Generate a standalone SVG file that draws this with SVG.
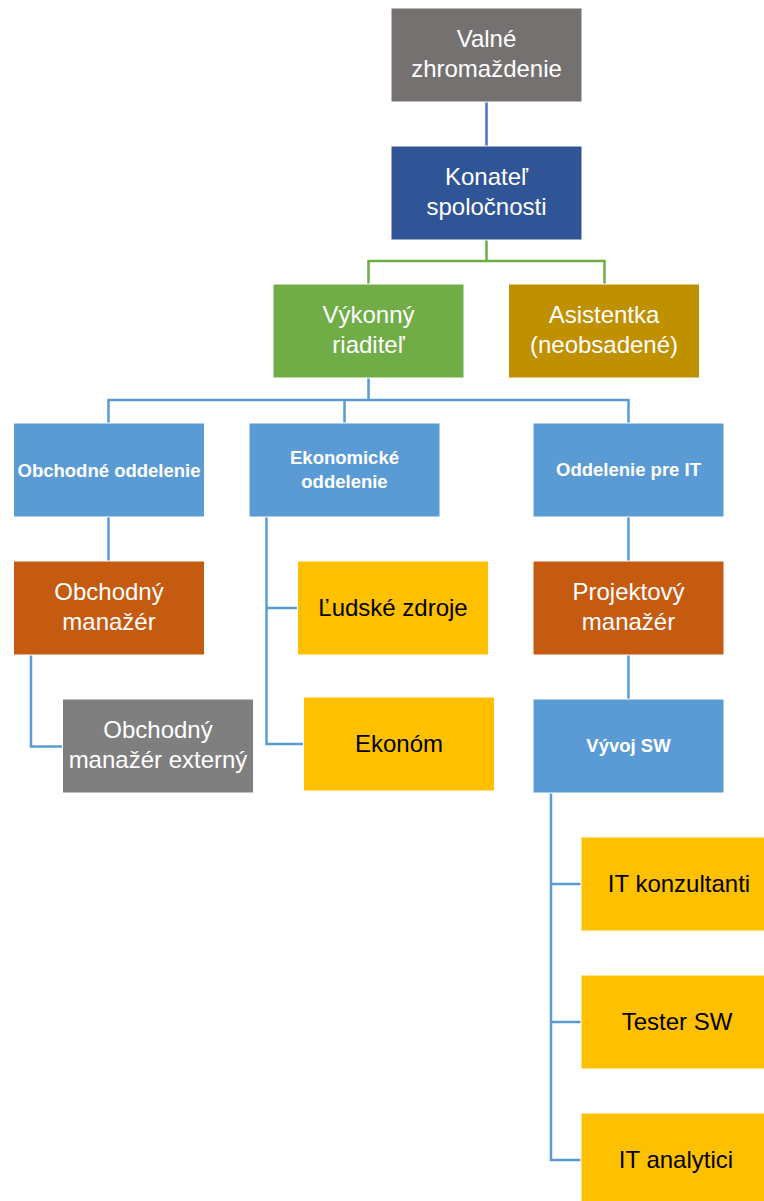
<svg xmlns="http://www.w3.org/2000/svg" width="764" height="1201" viewBox="0 0 764 1201">
<style>
.box{stroke:#ffffff;stroke-width:1}
.t{font-family:"Liberation Sans",Arial,sans-serif;font-size:24px;text-anchor:middle;fill:#ffffff}
.tb{font-family:"Liberation Sans",Arial,sans-serif;font-size:18.5px;font-weight:bold;text-anchor:middle;fill:#ffffff}
.dk{fill:#000000}
.c{fill:none;stroke-width:2.5}
.cb{stroke:#5B9BD5}
.cg{stroke:#70AD47}
.cd{stroke:#4472C4}
</style>
<rect width="764" height="1201" fill="#ffffff"/>
<g id="connectors">
<path class="c cd" d="M486.5,102 V146"/>
<path class="c cg" d="M486.5,240 V261 M368.5,284 V261 H604.5 V284"/>
<path class="c cb" d="M368.5,378 V400 M108.5,423 V400 H628.5 V423 M344.5,400 V423"/>
<path class="c cb" d="M108.5,517 V561"/>
<path class="c cb" d="M31,655 V746.5 H62"/>
<path class="c cb" d="M266.5,517 V744 H303 M266.5,608 H297"/>
<path class="c cb" d="M628.5,517 V561 M628.5,655 V699"/>
<path class="c cb" d="M551,793 V1160 H581 M551,884 H581 M551,1022 H581"/>
</g>
<g id="valne">
<rect class="box" x="391" y="8" width="191" height="94" fill="#767171"/>
<text class="t" x="486.5" y="47">Valné</text>
<text class="t" x="486.5" y="77">zhromaždenie</text>
</g>
<g id="konatel">
<rect class="box" x="391" y="146" width="191" height="94" fill="#2F5597"/>
<text class="t" x="486.5" y="185">Konateľ</text>
<text class="t" x="486.5" y="215">spoločnosti</text>
</g>
<g id="vykonny">
<rect class="box" x="273" y="284" width="191" height="94" fill="#70AD47"/>
<text class="t" x="368.5" y="323">Výkonný</text>
<text class="t" x="368.5" y="353">riaditeľ</text>
</g>
<g id="asistentka">
<rect class="box" x="508.5" y="284" width="191" height="94" fill="#BF9000"/>
<text class="t" x="604" y="323">Asistentka</text>
<text class="t" x="604" y="353">(neobsadené)</text>
</g>
<g id="obchodne">
<rect class="box" x="13.5" y="423" width="191" height="94" fill="#5B9BD5"/>
<text class="tb" x="109" y="476.5">Obchodné oddelenie</text>
</g>
<g id="ekonomicke">
<rect class="box" x="249" y="423" width="191" height="94" fill="#5B9BD5"/>
<text class="tb" x="344.5" y="464">Ekonomické</text>
<text class="tb" x="344.5" y="488">oddelenie</text>
</g>
<g id="oddelenie-it">
<rect class="box" x="533" y="423" width="191" height="94" fill="#5B9BD5"/>
<text class="tb" x="628.5" y="476">Oddelenie pre IT</text>
</g>
<g id="obchodny-manazer">
<rect class="box" x="13.5" y="561" width="191" height="94" fill="#C55A11"/>
<text class="t" x="109" y="600">Obchodný</text>
<text class="t" x="109" y="630">manažér</text>
</g>
<g id="obchodny-externy">
<rect class="box" x="62.5" y="699" width="191" height="94" fill="#7F7F7F"/>
<text class="t" x="158" y="738">Obchodný</text>
<text class="t" x="158" y="768">manažér externý</text>
</g>
<g id="ludske-zdroje">
<rect class="box" x="297.5" y="561" width="191" height="94" fill="#FFC000"/>
<text class="t dk" x="393" y="616">Ľudské zdroje</text>
</g>
<g id="ekonom">
<rect class="box" x="303.5" y="697" width="191" height="94" fill="#FFC000"/>
<text class="t dk" x="399" y="752">Ekonóm</text>
</g>
<g id="projektovy">
<rect class="box" x="533" y="561" width="191" height="94" fill="#C55A11"/>
<text class="t" x="628.5" y="600">Projektový</text>
<text class="t" x="628.5" y="630">manažér</text>
</g>
<g id="vyvoj-sw">
<rect class="box" x="533" y="699" width="191" height="94" fill="#5B9BD5"/>
<text class="tb" x="628.5" y="752">Vývoj SW</text>
</g>
<g id="it-konzultanti">
<rect class="box" x="581" y="837" width="191" height="94" fill="#FFC000"/>
<text class="t dk" x="679" y="892">IT konzultanti</text>
</g>
<g id="tester-sw">
<rect class="box" x="581" y="975" width="191" height="94" fill="#FFC000"/>
<text class="t dk" x="677" y="1030">Tester SW</text>
</g>
<g id="it-analytici">
<rect class="box" x="581" y="1113" width="191" height="94" fill="#FFC000"/>
<text class="t dk" x="676" y="1168">IT analytici</text>
</g>
</svg>
